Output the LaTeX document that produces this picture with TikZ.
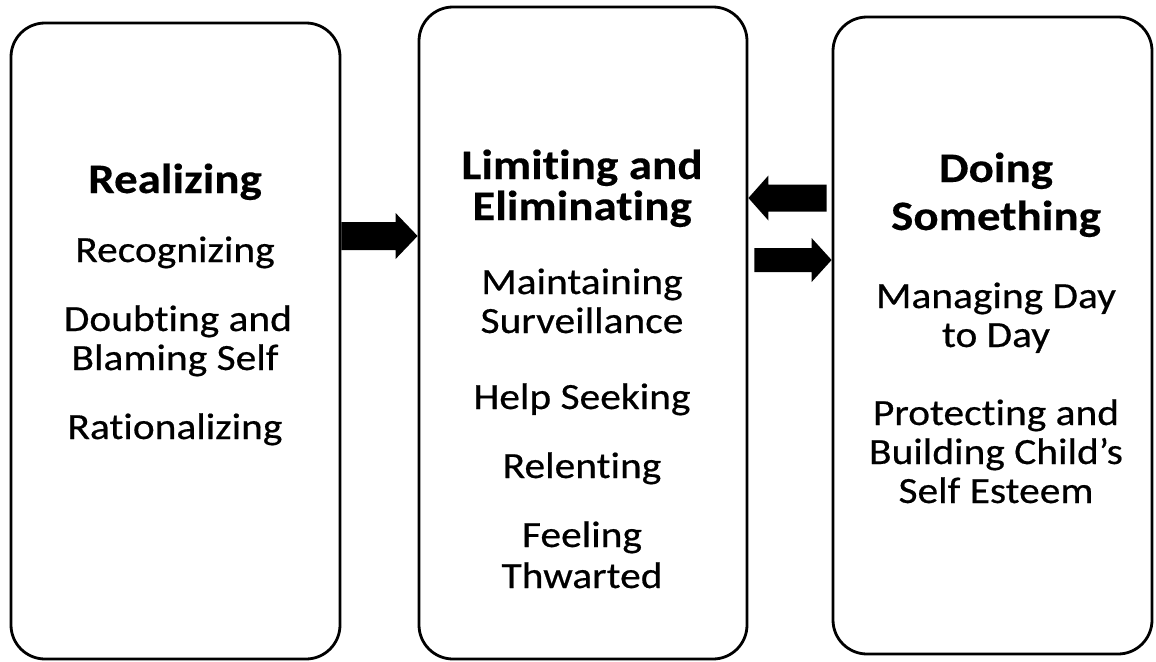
\documentclass[tikz,border=0pt]{standalone}
\usepackage{fontspec}
\setmainfont{Carlito}[FakeStretch=1.12, Ligatures={NoCommon}, FakeBold=0.5, BoldFeatures={FakeBold=0.3}]
\usetikzlibrary{calc}
\begin{document}
\begin{tikzpicture}[x=1pt,y=-1pt,
  box/.style={draw, line width=2.8pt, rounded corners=34pt, inner sep=0pt},
  ttl/.style={font=\fontsize{42}{42}\selectfont\bfseries, anchor=base, inner sep=0pt},
  itm/.style={font=\fontsize{37}{37}\selectfont, anchor=base, inner sep=0pt},
  blk/.style={fill=black, draw=none}]
\useasboundingbox (0,0) rectangle (1156,661);
% boxes
\node[box, minimum width=329pt, minimum height=636pt] (b1) at (175.5,341) {};
\node[box, minimum width=328pt, minimum height=652pt] (b2) at (583,333) {};
\node[box, minimum width=319pt, minimum height=637pt] (b3) at (992.5,335.5) {};
% box 1 text
\node[ttl] (t1) at (175,193) {Realizing};
\node[itm] (i11) at (175,262) {Recognizing};
\node[itm] (i12) at (178,331) {Doubting and};
\node[itm] (i13) at (175,370) {Blaming Self};
\node[itm] (i14) at (175,439) {Rationalizing};
% box 2 text
\node[ttl] (t2a) at (582,179) {Limiting and};
\node[ttl] (t2b) at (582,220) {Eliminating};
\node[itm] (i21) at (582,294) {Maintaining};
\node[itm] (i22) at (582,333) {Surveillance};
\node[itm] (i23) at (582,409) {Help Seeking};
\node[itm] (i24) at (582,478) {Relenting};
\node[itm] (i25) at (582,547) {Feeling};
\node[itm] (i26) at (582,588) {Thwarted};
% box 3 text
\node[ttl] (t3a) at (996,182) {Doing};
\node[ttl] (t3b) at (996,230) {Something};
\node[itm] (i31) at (996,308) {Managing Day};
\node[itm] (i32) at (996,347) {to Day};
\node[itm] (i33) at (996,425) {Protecting and};
\node[itm] (i34) at (996,464) {Building Child’s};
\node[itm] (i35) at (996,503) {Self Esteem};
% arrows
\coordinate (r1) at (0,236);
\coordinate (r2) at (0,198);
\coordinate (r3) at (0,260);
\coordinate (a1t) at (b1.east |- r1);
\coordinate (a1h) at (b2.west |- r1);
\coordinate (a2h) at (b2.east |- r2);
\coordinate (a2t) at ($(b3.west |- r2)+(-5,0)$);
\coordinate (a3t) at ($(b2.east |- r3)+(6,0)$);
\coordinate (a3h) at (b3.west |- r3);
\fill[blk] ($(a1t)+(0,-14)$) -- ($(a1h)+(-22,-14)$) -- ($(a1h)+(-22,-23)$) -- (a1h)
  -- ($(a1h)+(-22,23)$) -- ($(a1h)+(-22,14)$) -- ($(a1t)+(0,14)$) -- cycle;
\fill[blk] ($(a2t)+(0,-13.5)$) -- ($(a2h)+(20,-13.5)$) -- ($(a2h)+(20,-22.5)$) -- (a2h)
  -- ($(a2h)+(20,22.5)$) -- ($(a2h)+(20,13.5)$) -- ($(a2t)+(0,13.5)$) -- cycle;
\fill[blk] ($(a3t)+(0,-12)$) -- ($(a3h)+(-20,-12)$) -- ($(a3h)+(-20,-22)$) -- (a3h)
  -- ($(a3h)+(-20,22)$) -- ($(a3h)+(-20,12)$) -- ($(a3t)+(0,12)$) -- cycle;
\end{tikzpicture}
\end{document}
